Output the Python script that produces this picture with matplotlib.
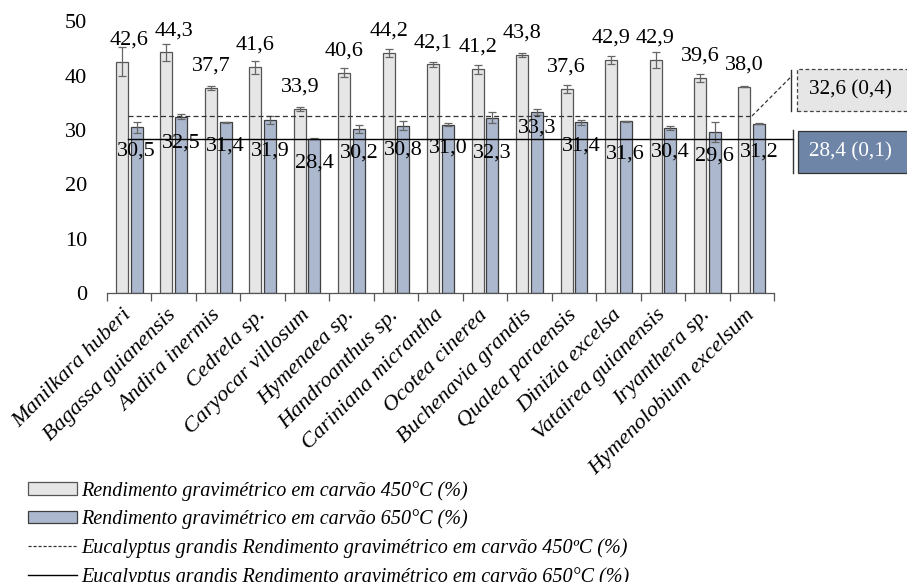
import matplotlib
matplotlib.use('Agg')
import matplotlib.pyplot as plt
from matplotlib.patches import Patch, Rectangle
from matplotlib.lines import Line2D
from matplotlib.transforms import blended_transform_factory
import numpy as np

species = ['Manilkara huberi', 'Bagassa guianensis', 'Andira inermis', 'Cedrela sp.',
           'Caryocar villosum', 'Hymenaea sp.', 'Handroanthus sp.', 'Cariniana micrantha',
           'Ocotea cinerea', 'Buchenavia grandis', 'Qualea paraensis', 'Dinizia excelsa',
           'Vatairea guianensis', 'Iryanthera sp.', 'Hymenolobium excelsum']
yield_450 = [42.6, 44.3, 37.7, 41.6, 33.9, 40.6, 44.2, 42.1, 41.2, 43.8, 37.6, 42.9, 42.9, 39.6, 38.0]
err_450 = [2.7, 1.5, 0.4, 1.2, 0.4, 0.8, 0.7, 0.5, 0.8, 0.4, 0.7, 0.8, 1.4, 0.7, 0.1]
yield_650 = [30.5, 32.5, 31.4, 31.9, 28.4, 30.2, 30.8, 31.0, 32.3, 33.3, 31.4, 31.6, 30.4, 29.6, 31.2]
err_650 = [1.0, 0.4, 0.05, 0.7, 0.1, 0.7, 0.8, 0.3, 1.0, 0.6, 0.5, 0.1, 0.3, 1.8, 0.1]
euc_450, euc_450_sd = 32.6, 0.4
euc_650, euc_650_sd = 28.4, 0.1

legend_labels = ['Rendimento gravimétrico em carvão 450°C (%)',
                 'Rendimento gravimétrico em carvão 650°C (%)',
                 'Eucalyptus grandis Rendimento gravimétrico em carvão 450ºC (%)',
                 'Eucalyptus grandis Rendimento gravimétrico em carvão 650°C (%)']

LIGHT = '#E6E6E6'
BLUE = '#ABB8CE'
DARK_BLUE = '#6F85A7'
EDGE = '#555555'

plt.rcParams['font.family'] = ['Liberation Serif', 'DejaVu Serif']

fig = plt.figure(figsize=(9.07, 5.82), dpi=100)
ax = fig.add_axes([0.118, 0.4966, 0.7354, 0.4665])

x = np.arange(len(species))
w = 0.27
off = 0.165
ax.bar(x - off, yield_450, w, color=LIGHT, edgecolor=EDGE, linewidth=0.9, zorder=2)
ax.bar(x + off, yield_650, w, color=BLUE, edgecolor='#3F3F3F', linewidth=0.9, zorder=2)
ax.errorbar(x - off, yield_450, yerr=err_450, fmt='none', ecolor='#666666',
            elinewidth=0.9, capsize=3, capthick=0.9, zorder=3)
ax.errorbar(x + off, yield_650, yerr=err_650, fmt='none', ecolor='#666666',
            elinewidth=0.9, capsize=3, capthick=0.9, zorder=3)

# value labels (a few nudged by hand so they don't collide)
top_dx = {0: 0.17, 1: 0.17}
low_dy = {1: -0.5, 3: -1.4, 8: -2.1, 9: 1.4, 11: -1.6, 14: -0.9}
for i, v in enumerate(yield_450):
    ax.text(x[i] - off + top_dx.get(i, 0), v + 4.0, f'{v:.1f}'.replace('.', ','),
            ha='center', va='center', fontsize=16, zorder=5)
for i, v in enumerate(yield_650):
    ax.text(x[i] + off, v - 4.4 + low_dy.get(i, 0), f'{v:.1f}'.replace('.', ','),
            ha='center', va='center', fontsize=16, zorder=5)

# Eucalyptus reference lines, extended out to the side boxes
tr = blended_transform_factory(ax.transAxes, ax.transData)
ax.plot([0.031, 0.967], [euc_450, euc_450], transform=tr, color='#333333', lw=0.9,
        dashes=(4, 2.5), clip_on=False, zorder=4)
ax.plot([0.967, 1.027], [euc_450, euc_450 + 7.4], transform=tr, color='#333333', lw=0.9,
        dashes=(3, 2), clip_on=False, zorder=4)
ax.plot([0.031, 1.029], [euc_650, euc_650], transform=tr, color='black', lw=1.0,
        clip_on=False, zorder=4)
ax.plot([1.025, 1.025], [33.5, 41.1], transform=tr, color='#333333', lw=1.0, clip_on=False)
ax.plot([1.029, 1.029], [22.1, 30.0], transform=tr, color='#333333', lw=1.0, clip_on=False)

ax.add_patch(Rectangle((1.034, 33.5), 0.17, 7.75, transform=tr, facecolor=LIGHT,
                       edgecolor='#444444', lw=0.9, linestyle=(0, (3, 2)), clip_on=False))
ax.add_patch(Rectangle((1.036, 22.1), 0.17, 7.7, transform=tr, facecolor=DARK_BLUE,
                       edgecolor='#333333', lw=0.9, clip_on=False))
ax.text(1.115, 37.4, f'{euc_450:.1f} ({euc_450_sd:.1f})'.replace('.', ','), transform=tr,
        ha='center', va='center', fontsize=15.3)
ax.text(1.115, 26.0, f'{euc_650:.1f} ({euc_650_sd:.1f})'.replace('.', ','), transform=tr,
        ha='center', va='center', fontsize=15.3, color='white')

ax.set_xlim(-0.5, len(species) - 0.5)
ax.set_ylim(0, 50)
ax.set_yticks(range(0, 51, 10))
ax.tick_params(axis='y', length=0, pad=14.5, labelsize=16)
ax.set_xticks(x)
ax.set_xticklabels(species, rotation=45, ha='right', va='center', rotation_mode='anchor',
                   fontsize=16.2, style='italic')
ax.tick_params(axis='x', which='major', length=0, pad=14)
ax.set_xticks(np.arange(-0.5, len(species)), minor=True)
ax.tick_params(axis='x', which='minor', length=6, width=0.9, color='#555555')
for s in ['top', 'right', 'left']:
    ax.spines[s].set_visible(False)
ax.spines['bottom'].set_color('#555555')
ax.spines['bottom'].set_linewidth(0.9)

handles = [Patch(facecolor=LIGHT, edgecolor=EDGE, linewidth=0.9),
           Patch(facecolor=BLUE, edgecolor='#3F3F3F', linewidth=0.9),
           Line2D([], [], color='#333333', lw=0.9, dashes=(2.5, 1.5)),
           Line2D([], [], color='black', lw=1.0)]
leg = fig.legend(handles, legend_labels, loc='upper left', bbox_to_anchor=(0.031, 0.174),
                 frameon=False, borderpad=0, borderaxespad=0, handlelength=2.45,
                 handleheight=0.55, handletextpad=0.2, labelspacing=0.44,
                 prop={'family': 'Liberation Serif', 'style': 'italic', 'size': 14.5})

fig.savefig('out.png', dpi=100)
